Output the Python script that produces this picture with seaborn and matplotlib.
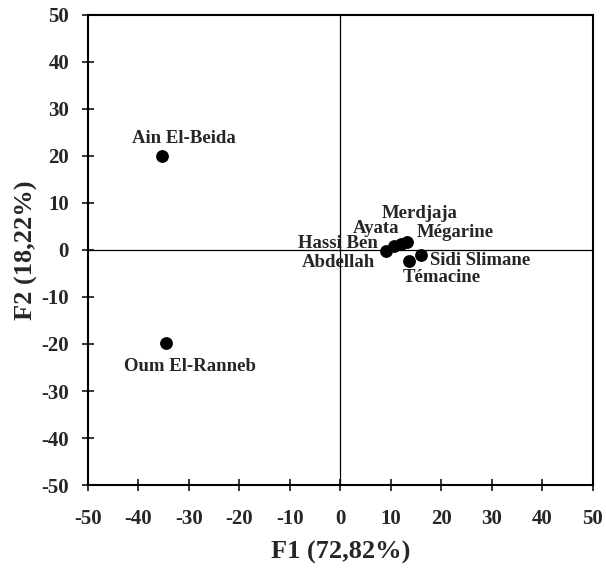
import numpy as np
import pandas as pd
import matplotlib
matplotlib.use('Agg')
import matplotlib.pyplot as plt
import seaborn as sns

sites = ['Ain El-Beida', 'Oum El-Ranneb', 'Hassi Ben\nAbdellah', 'Ayata',
         'Merdjaja', 'Mégarine', 'Sidi Slimane', 'Témacine']
f1 = [-35.4, -34.5, 9.1, 10.6, 11.9, 13.1, 16.0, 13.5]
f2 = [19.9, -19.7, -0.3, 0.75, 1.2, 1.6, -1.0, -2.45]

df = pd.DataFrame({'site': sites, 'F1': f1, 'F2': f2})

# label offsets in points and alignment
label_pos = {
    'Ain El-Beida': (16, 13, 'center'),
    'Oum El-Ranneb': (17, -17, 'center'),
    'Hassi Ben\nAbdellah': (-6, -1, 'right'),
    'Ayata': (-13, 13, 'center'),
    'Merdjaja': (14, 22, 'center'),
    'Mégarine': (7, 7, 'left'),
    'Sidi Slimane': (6.5, -4.5, 'left'),
    'Témacine': (24, -11.5, 'center'),
}

sns.set_style('white')
plt.rcParams['font.family'] = ['Liberation Serif', 'DejaVu Serif']
plt.rcParams['font.weight'] = 'bold'
plt.rcParams['axes.unicode_minus'] = False

fig = plt.figure(figsize=(6.06, 5.7), dpi=100)
ax = fig.add_axes([0.145, 0.149, 0.8335, 0.825])

ax.axhline(0, color='black', lw=0.9, zorder=1)
ax.axvline(0, color='black', lw=0.9, zorder=1)
sns.scatterplot(data=df, x='F1', y='F2', color='black', s=85, edgecolor='black',
                linewidth=0, ax=ax, zorder=3)

for _, r in df.iterrows():
    dx, dy, ha = label_pos[r['site']]
    ax.annotate(r['site'], (r['F1'], r['F2']), xytext=(dx, dy), textcoords='offset points',
                ha=ha, va='center', fontsize=13.5, fontweight='bold',
                multialignment='center', linespacing=1.15)

ax.set_xlim(-50, 50)
ax.set_ylim(-50, 50)
ax.set_xticks(np.arange(-50, 51, 10))
ax.set_yticks(np.arange(-50, 51, 10))
ax.tick_params(direction='inout', length=9, width=1.3, labelsize=15,
               bottom=True, left=True, top=False, right=False)
ax.tick_params(axis='x', pad=13)
ax.tick_params(axis='y', pad=9)
for s in ax.spines.values():
    s.set_color('black')
    s.set_linewidth(1.5)

ax.set_xlabel('F1 (72,82%)', fontsize=19, fontweight='bold', labelpad=8)
ax.set_ylabel('F2 (18,22%)', fontsize=19, fontweight='bold', labelpad=2.5)

fig.savefig('out.png', dpi=100)
